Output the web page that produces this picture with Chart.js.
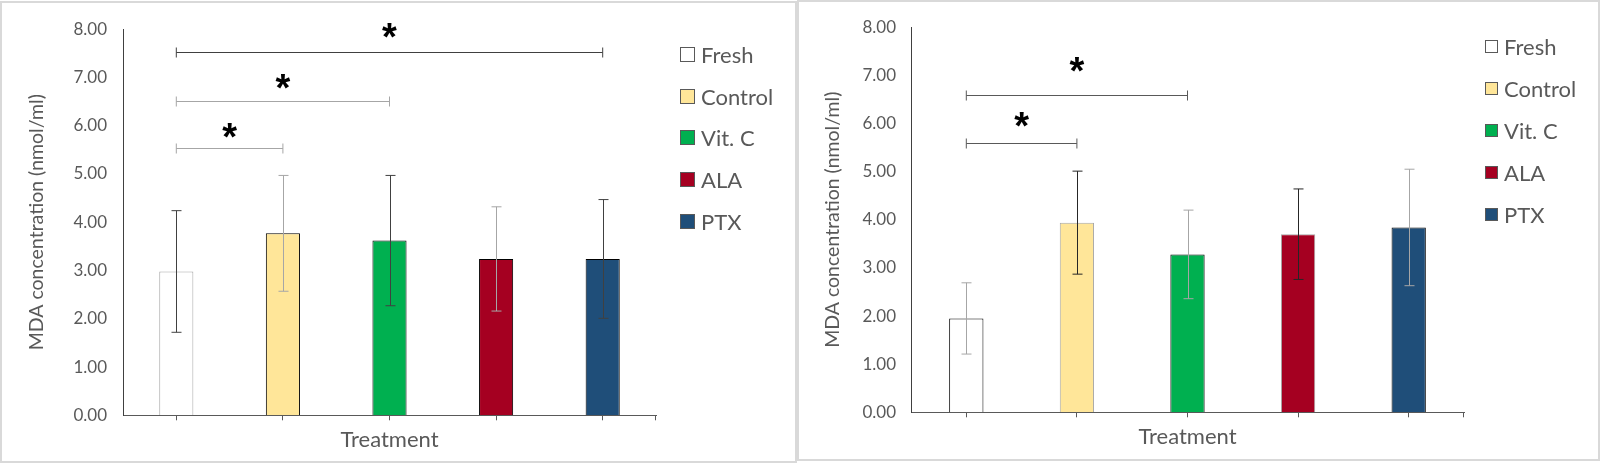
<!DOCTYPE html>
<html>
<head>
<meta charset="utf-8">
<script src="https://cdn.jsdelivr.net/npm/chart.js@4.4.1/dist/chart.umd.min.js"></script>
<style>
  body { margin: 0; background: #fff; width: 1600px; height: 465px; position: relative; overflow: hidden; }
  .panel { position: absolute; box-sizing: border-box; border: 2px solid #d9d9d9; background: #fff; }
  .panel canvas { position: absolute; left: 0; top: 0; }
  .legend { position: absolute; font-family: Lato, sans-serif; font-size: 22px; color: #595959; }
  .legend .item { display: flex; align-items: center; }
  .legend .box { box-sizing: border-box; border: 1px solid #595959; }
</style>
</head>
<body>

<div class="panel" style="left:0px;top:1px;width:797px;height:462px">
  <canvas id="chartA" width="793" height="458"></canvas>
  <div class="legend" id="legendA" style="left:678px;top:31px"></div>
</div>
<div class="panel" style="left:797px;top:0px;width:803px;height:461px">
  <canvas id="chartB" width="799" height="457"></canvas>
  <div class="legend" id="legendB" style="left:686px;top:24px"></div>
</div>

<script>
// data
const categories = ['Fresh', 'Control', 'Vit. C', 'ALA', 'PTX'];
const yTicks = [0, 1, 2, 3, 4, 5, 6, 7, 8];

// left chart
const meansA = [2.98, 3.77, 3.62, 3.24, 3.24];
const errorsA = [1.26, 1.20, 1.35, 1.08, 1.23];
const sigFromA = [0, 0, 0];
const sigToA = [1, 2, 4];
const sigLevelA = [5.54, 6.51, 7.53];
const starLevelA = [5.91, 6.91, 7.97];

// right chart
const meansB = [1.95, 3.94, 3.28, 3.70, 3.84];
const errorsB = [0.74, 1.07, 0.92, 0.94, 1.21];
const sigFromB = [0, 0];
const sigToB = [1, 2];
const sigLevelB = [5.59, 6.60];
const starLevelB = [6.09, 7.22];

const barColors = ['#ffffff', '#ffe699', '#00b050', '#a50021', '#1f4e79'];

Chart.defaults.font.family = 'Lato';
Chart.defaults.color = '#595959';

// error bars, significance brackets and stars
const annotate = {
  id: 'annotate',
  afterDatasetsDraw(chart) {
    const o = chart.options.plugins.annotate;
    const ctx = chart.ctx;
    const x = chart.scales.x, y = chart.scales.y;
    const bars = chart.getDatasetMeta(0).data;
    ctx.save();
    ctx.lineWidth = 1;

    // error bars
    o.errors.forEach((e, i) => {
      const cx = Math.round(bars[i].x) + 0.5;
      const m = chart.data.datasets[0].data[i];
      const t = y.getPixelForValue(m + e), b = y.getPixelForValue(m - e);
      ctx.strokeStyle = o.errColors[i];
      ctx.beginPath();
      ctx.moveTo(cx, t); ctx.lineTo(cx, b);
      ctx.moveTo(cx - 5, t); ctx.lineTo(cx + 5, t);
      ctx.moveTo(cx - 5, b); ctx.lineTo(cx + 5, b);
      ctx.stroke();
    });

    // end tick on the x axis
    ctx.strokeStyle = '#595959';
    ctx.beginPath();
    ctx.moveTo(chart.chartArea.right - 0.5, chart.chartArea.bottom);
    ctx.lineTo(chart.chartArea.right - 0.5, chart.chartArea.bottom + 5);
    ctx.stroke();

    // brackets
    o.from.forEach((f, i) => {
      const x1 = x.getPixelForValue(f), x2 = x.getPixelForValue(o.to[i]);
      const ly = Math.round(y.getPixelForValue(o.level[i])) + 0.5;
      ctx.strokeStyle = o.sigColors[i];
      ctx.beginPath();
      ctx.moveTo(x1, ly); ctx.lineTo(x2, ly);
      ctx.moveTo(x1, ly - 5); ctx.lineTo(x1, ly + 5);
      ctx.moveTo(x2, ly - 5); ctx.lineTo(x2, ly + 5);
      ctx.stroke();

      ctx.font = 'bold 38px "Liberation Sans"';
      ctx.fillStyle = '#000';
      ctx.textAlign = 'center';
      ctx.textBaseline = 'alphabetic';
      const mt = ctx.measureText('*');
      const sy = y.getPixelForValue(o.star[i]);
      ctx.fillText('*', (x1 + x2) / 2, sy + (mt.actualBoundingBoxAscent - mt.actualBoundingBoxDescent) / 2);
    });
    ctx.restore();
  }
};

function buildLegend(chart, el, box, rowH) {
  const ds = chart.data.datasets[0];
  chart.data.labels.forEach((lab, i) => {
    const item = document.createElement('div');
    item.className = 'item';
    item.style.height = rowH + 'px';
    const b = document.createElement('span');
    b.className = 'box';
    b.style.width = box + 'px';
    b.style.height = box + 'px';
    b.style.background = ds.backgroundColor[i];
    const t = document.createElement('span');
    t.textContent = lab;
    t.style.marginLeft = '6px';
    item.appendChild(b);
    item.appendChild(t);
    el.appendChild(item);
  });
}

function makeChart(id, means, p) {
  return new Chart(document.getElementById(id), {
    type: 'bar',
    data: {
      labels: categories,
      datasets: [{
        data: means,
        backgroundColor: barColors,
        borderColor: p.borders,
        borderWidth: 1,
        categoryPercentage: 1,
        barPercentage: p.barPct
      }]
    },
    options: {
      responsive: false,
      animation: false,
      layout: { padding: { top: p.top, right: p.right, left: 0, bottom: 0 } },
      plugins: {
        legend: { display: false },
        tooltip: { enabled: false },
        annotate: p.annot
      },
      scales: {
        x: {
          afterFit: s => { s.height = p.xh; },
          grid: { display: true, drawOnChartArea: false, offset: false, tickLength: 5, color: '#595959' },
          border: { display: true, color: '#595959', width: 1 },
          ticks: { display: false },
          title: { display: true, text: 'Treatment', color: '#595959', font: { size: 22 }, padding: { top: 0, bottom: p.xtPad } }
        },
        y: {
          min: 0,
          max: 8,
          afterFit: s => { s.width = p.left; },
          afterBuildTicks: s => { s.ticks = yTicks.map(v => ({ value: v })); },
          grid: { display: false, drawTicks: false },
          border: { display: true, color: '#404040', width: 1 },
          ticks: { padding: p.tickPad, color: '#595959', font: { size: 17 }, callback: v => v.toFixed(2) },
          title: { display: true, text: 'MDA concentration (nmol/ml)', color: '#595959', font: { size: 19.5 }, padding: { top: p.ytPad, bottom: 0 } }
        }
      }
    },
    plugins: [annotate]
  });
}

const chartA = makeChart('chartA', meansA, {
  top: 22, right: 139, left: 121, xh: 45.7, barPct: 0.32, tickPad: 16, xtPad: 8, ytPad: 23,
  borders: ['#a6a6a6', '#000000', '#000000', '#000000', '#000000'],
  annot: {
    errors: errorsA, errColors: ['#404040', '#a6a6a6', '#404040', '#a6a6a6', '#404040'],
    from: sigFromA, to: sigToA, level: sigLevelA, star: starLevelA,
    sigColors: ['#a6a6a6', '#a6a6a6', '#404040']
  }
});

const chartB = makeChart('chartB', meansB, {
  top: 22, right: 134, left: 112, xh: 46.7, barPct: 0.31, tickPad: 15, xtPad: 9, ytPad: 22,
  borders: ['#000000', '#a6a6a6', '#000000', '#a6a6a6', '#000000'],
  annot: {
    errors: errorsB, errColors: ['#a6a6a6', '#262626', '#a6a6a6', '#262626', '#a6a6a6'],
    from: sigFromB, to: sigToB, level: sigLevelB, star: starLevelB,
    sigColors: ['#595959', '#595959']
  }
});

buildLegend(chartA, document.getElementById('legendA'), 15, 41.6);
buildLegend(chartB, document.getElementById('legendB'), 13, 41.8);
</script>
</body>
</html>
